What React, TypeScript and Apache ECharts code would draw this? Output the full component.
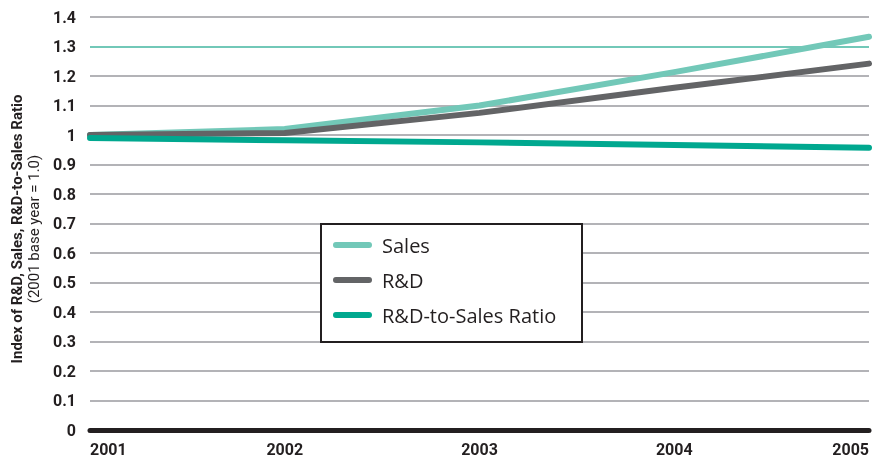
import React, { useEffect, useRef } from "react";
import * as echarts from "echarts";

const years = ["2001", "2002", "2003", "2004", "2005"];
const sales = [1.0, 1.02, 1.1, 1.213, 1.333];
const rnd = [1.0, 1.007, 1.075, 1.16, 1.242];
const ratio = [0.99, 0.982, 0.975, 0.966, 0.957];
const highlightTick = 1.3;
const yTicks = [0, 0.1, 0.2, 0.3, 0.4, 0.5, 0.6, 0.7, 0.8, 0.9, 1, 1.1, 1.2, 1.3, 1.4];

const C_SALES = "#72c8b8";
const C_RND = "#636466";
const C_RATIO = "#00a88f";
const DARK = "#231f20";
const FONT = "Roboto, 'DejaVu Sans', sans-serif";
const LEGEND_FONT = "'Open Sans', Roboto, sans-serif";
const PILL = "path://M3,0 H37 A3,3 0 0 1 37,6 H3 A3,3 0 0 1 3,0 Z";

export default function App() {
  const ref = useRef<HTMLDivElement>(null);
  useEffect(() => {
    const chart = echarts.init(ref.current!, null, { renderer: "svg" });
    const gridColors = yTicks.map((t) => (Math.abs(t - highlightTick) < 1e-9 ? C_SALES : "#b3b3b7"));
    const mkLine = (name: string, data: number[], color: string) => ({
      name,
      type: "line",
      data,
      symbol: "none",
      lineStyle: { color, width: 6, cap: "round", join: "round" },
      itemStyle: { color },
    });
    chart.setOption({
      animation: false,
      grid: { left: 90, right: 5, top: 17, bottom: 30 },
      xAxis: {
        type: "category",
        data: years,
        boundaryGap: false,
        axisLine: { lineStyle: { color: DARK, width: 5 } },
        axisTick: { show: false },
        axisLabel: {
          fontFamily: FONT,
          fontWeight: "bold",
          fontSize: 16,
          color: DARK,
          margin: 11,
          alignMinLabel: "left",
          alignMaxLabel: "right",
        },
      },
      yAxis: {
        type: "value",
        min: 0,
        max: 1.4,
        interval: 0.1,
        axisLine: { show: false },
        axisTick: { show: false },
        axisLabel: {
          fontFamily: FONT,
          fontWeight: "bold",
          fontSize: 16,
          color: DARK,
          margin: 14,
          formatter: (v: number) => String(Math.round(v * 10) / 10),
        },
        splitLine: { lineStyle: { color: gridColors, width: 2 } },
      },
      legend: {
        orient: "vertical",
        left: 328,
        top: 230,
        itemWidth: 39,
        itemHeight: 6,
        itemGap: 15,
        icon: PILL,
        textStyle: { fontFamily: LEGEND_FONT, fontSize: 20, color: DARK, padding: [0, 0, 0, 5] },
        data: ["Sales", "R&D", "R&D-to-Sales Ratio"],
        z: 10,
      },
      graphic: [
        {
          type: "rect",
          z: 5,
          shape: { x: 321, y: 224, width: 261, height: 118 },
          style: { fill: "#ffffff", stroke: DARK, lineWidth: 2 },
        },
        {
          type: "text",
          x: 17,
          y: 229,
          rotation: Math.PI / 2,
          style: {
            text: "Index of R&D, Sales, R&D-to-Sales Ratio",
            fontFamily: FONT,
            fontWeight: "bold",
            fontSize: 15,
            fill: DARK,
            align: "center",
            verticalAlign: "middle",
          },
        },
        {
          type: "text",
          x: 34,
          y: 229,
          rotation: Math.PI / 2,
          style: {
            text: "(2001 base year = 1.0)",
            fontFamily: FONT,
            fontSize: 15,
            fill: DARK,
            align: "center",
            verticalAlign: "middle",
          },
        },
      ],
      series: [
        mkLine("Sales", sales, C_SALES),
        mkLine("R&D", rnd, C_RND),
        mkLine("R&D-to-Sales Ratio", ratio, C_RATIO),
      ],
    });
    return () => chart.dispose();
  }, []);
  return (
    <div
      ref={ref}
      style={{ position: "fixed", left: 0, top: 0, width: 874, height: 460 }}
    />
  );
}
